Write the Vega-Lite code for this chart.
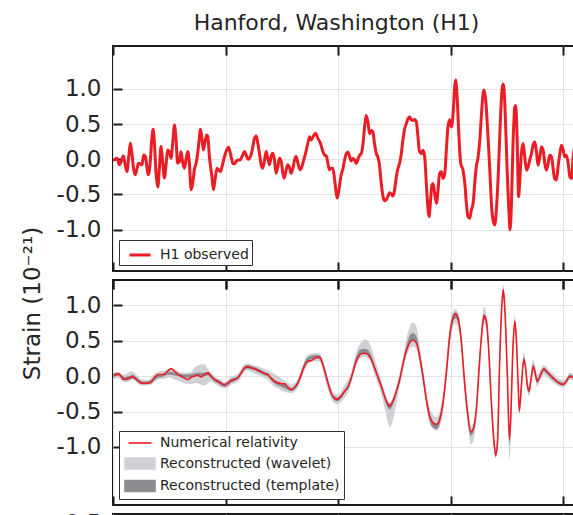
{
"$schema": "https://vega.github.io/schema/vega-lite/v6.json",
"padding": {"left": 20, "top": 11, "right": 0, "bottom": 0},
"bounds": "flush",
"spacing": 9,
"config": {
  "font": "DejaVu Sans",
  "view": {"stroke": "#1a1a1a", "strokeWidth": 2},
  "axis": {"labelFont": "DejaVu Sans", "labelFontSize": 23, "labelColor": "#262626", "gridColor": "#e4e4e4", "gridWidth": 1, "domain": false, "tickColor": "#1a1a1a", "tickWidth": 2, "tickSize": -9, "labelPadding": 21, "labelFlush": false, "labelOverlap": false, "titleFont": "DejaVu Sans", "titleFontWeight": "normal", "titleColor": "#262626"},
  "axisX": {"labelPadding": 0, "minExtent": 0, "maxExtent": 0},
  "legend": {"labelFont": "DejaVu Sans", "labelColor": "#262626", "labelLimit": 400}
},
"datasets": {
"h1": [
{"t":0.2506,"v":-0.010},{"t":0.2518,"v":0.014},{"t":0.2528,"v":-0.080},{"t":0.2536,"v":-0.033},{"t":0.2546,"v":0.047},{"t":0.2553,"v":-0.057},{"t":0.2562,"v":-0.175},{"t":0.2570,"v":0.038},{"t":0.2577,"v":0.226},{"t":0.2584,"v":0.085},{"t":0.2592,"v":-0.151},{"t":0.2599,"v":-0.222},{"t":0.2607,"v":-0.127},{"t":0.2614,"v":-0.057},{"t":0.2621,"v":-0.066},{"t":0.2629,"v":-0.080},{"t":0.2636,"v":0.061},{"t":0.2644,"v":0.038},{"t":0.2651,"v":-0.127},{"t":0.2657,"v":-0.222},{"t":0.2666,"v":-0.010},{"t":0.2672,"v":0.274},{"t":0.2678,"v":0.425},{"t":0.2684,"v":0.226},{"t":0.2691,"v":-0.198},{"t":0.2699,"v":-0.396},{"t":0.2706,"v":-0.127},{"t":0.2713,"v":0.179},{"t":0.2721,"v":-0.057},{"t":0.2728,"v":-0.269},{"t":0.2736,"v":-0.057},{"t":0.2743,"v":0.132},{"t":0.2750,"v":0.108},{"t":0.2758,"v":0.014},{"t":0.2765,"v":0.226},{"t":0.2773,"v":0.486},{"t":0.2780,"v":0.274},{"t":0.2787,"v":-0.057},{"t":0.2795,"v":-0.033},{"t":0.2802,"v":0.108},{"t":0.2810,"v":-0.057},{"t":0.2817,"v":-0.127},{"t":0.2824,"v":-0.010},{"t":0.2832,"v":0.108},{"t":0.2839,"v":-0.057},{"t":0.2847,"v":-0.434},{"t":0.2854,"v":-0.340},{"t":0.2861,"v":-0.151},{"t":0.2869,"v":-0.057},{"t":0.2876,"v":0.085},{"t":0.2884,"v":0.321},{"t":0.2888,"v":0.425},{"t":0.2894,"v":0.321},{"t":0.2901,"v":0.132},{"t":0.2909,"v":0.250},{"t":0.2916,"v":0.344},{"t":0.2921,"v":0.321},{"t":0.2928,"v":0.038},{"t":0.2939,"v":-0.245},{"t":0.2946,"v":-0.434},{"t":0.2953,"v":-0.292},{"t":0.2962,"v":-0.127},{"t":0.2968,"v":-0.151},{"t":0.2977,"v":-0.175},{"t":0.2984,"v":-0.104},{"t":0.2995,"v":0.038},{"t":0.3005,"v":0.132},{"t":0.3013,"v":0.170},{"t":0.3021,"v":0.085},{"t":0.3032,"v":-0.057},{"t":0.3039,"v":-0.066},{"t":0.3047,"v":-0.033},{"t":0.3054,"v":-0.010},{"t":0.3064,"v":-0.010},{"t":0.3073,"v":0.038},{"t":0.3084,"v":0.108},{"t":0.3091,"v":0.061},{"t":0.3099,"v":0.000},{"t":0.3106,"v":0.014},{"t":0.3113,"v":0.061},{"t":0.3121,"v":0.179},{"t":0.3128,"v":0.297},{"t":0.3136,"v":0.330},{"t":0.3143,"v":0.226},{"t":0.3150,"v":0.085},{"t":0.3158,"v":-0.080},{"t":0.3165,"v":-0.127},{"t":0.3173,"v":-0.010},{"t":0.3180,"v":0.108},{"t":0.3187,"v":0.014},{"t":0.3195,"v":-0.080},{"t":0.3202,"v":0.038},{"t":0.3210,"v":0.085},{"t":0.3217,"v":-0.010},{"t":0.3224,"v":-0.198},{"t":0.3232,"v":-0.104},{"t":0.3239,"v":0.014},{"t":0.3247,"v":-0.033},{"t":0.3254,"v":-0.198},{"t":0.3260,"v":-0.269},{"t":0.3269,"v":-0.151},{"t":0.3276,"v":-0.080},{"t":0.3284,"v":-0.127},{"t":0.3291,"v":-0.198},{"t":0.3299,"v":-0.127},{"t":0.3306,"v":-0.010},{"t":0.3313,"v":0.038},{"t":0.3321,"v":-0.057},{"t":0.3331,"v":-0.151},{"t":0.3339,"v":-0.104},{"t":0.3347,"v":-0.010},{"t":0.3355,"v":0.085},{"t":0.3365,"v":0.226},{"t":0.3373,"v":0.321},{"t":0.3380,"v":0.274},{"t":0.3390,"v":0.330},{"t":0.3399,"v":0.368},{"t":0.3410,"v":0.297},{"t":0.3421,"v":0.226},{"t":0.3432,"v":0.108},{"t":0.3439,"v":0.061},{"t":0.3447,"v":0.047},{"t":0.3454,"v":-0.057},{"t":0.3461,"v":-0.151},{"t":0.3469,"v":-0.127},{"t":0.3476,"v":-0.127},{"t":0.3484,"v":-0.292},{"t":0.3491,"v":-0.481},{"t":0.3496,"v":-0.552},{"t":0.3503,"v":-0.434},{"t":0.3513,"v":-0.226},
{"t":0.3521,"v":-0.132},{"t":0.3528,"v":-0.014},{"t":0.3536,"v":0.080},{"t":0.3543,"v":0.104},{"t":0.3550,"v":0.042},{"t":0.3558,"v":-0.024},{"t":0.3565,"v":0.009},{"t":0.3573,"v":-0.014},{"t":0.3580,"v":-0.061},{"t":0.3587,"v":-0.005},{"t":0.3595,"v":0.057},{"t":0.3602,"v":0.080},{"t":0.3610,"v":0.222},{"t":0.3617,"v":0.458},{"t":0.3624,"v":0.623},{"t":0.3632,"v":0.528},{"t":0.3639,"v":0.363},{"t":0.3647,"v":0.410},{"t":0.3654,"v":0.387},{"t":0.3661,"v":0.222},{"t":0.3669,"v":0.080},{"t":0.3676,"v":0.033},{"t":0.3684,"v":-0.108},{"t":0.3691,"v":-0.344},{"t":0.3699,"v":-0.533},{"t":0.3706,"v":-0.590},{"t":0.3713,"v":-0.580},{"t":0.3721,"v":-0.524},{"t":0.3728,"v":-0.476},{"t":0.3736,"v":-0.495},{"t":0.3743,"v":-0.524},{"t":0.3750,"v":-0.439},{"t":0.3758,"v":-0.250},{"t":0.3765,"v":-0.132},{"t":0.3773,"v":-0.052},{"t":0.3780,"v":0.080},{"t":0.3787,"v":0.269},{"t":0.3795,"v":0.434},{"t":0.3802,"v":0.505},{"t":0.3810,"v":0.575},{"t":0.3817,"v":0.599},{"t":0.3824,"v":0.561},{"t":0.3832,"v":0.552},{"t":0.3839,"v":0.566},{"t":0.3847,"v":0.528},{"t":0.3854,"v":0.316},{"t":0.3861,"v":0.104},{"t":0.3869,"v":0.080},{"t":0.3876,"v":0.127},{"t":0.3884,"v":0.033},{"t":0.3891,"v":-0.344},{"t":0.3899,"v":-0.722},{"t":0.3903,"v":-0.816},{"t":0.3909,"v":-0.627},{"t":0.3916,"v":-0.368},{"t":0.3921,"v":-0.344},{"t":0.3928,"v":-0.486},{"t":0.3936,"v":-0.627},{"t":0.3943,"v":-0.439},{"t":0.3950,"v":-0.203},{"t":0.3958,"v":-0.179},{"t":0.3965,"v":-0.274},{"t":0.3973,"v":-0.203},{"t":0.3980,"v":0.127},{"t":0.3987,"v":0.458},{"t":0.3995,"v":0.561},{"t":0.4002,"v":0.458},{"t":0.4010,"v":0.646},{"t":0.4017,"v":1.024},{"t":0.4021,"v":1.127},{"t":0.4027,"v":0.929},{"t":0.4036,"v":0.316},{"t":0.4044,"v":-0.061},{"t":0.4054,"v":-0.156},{"t":0.4062,"v":-0.344},{"t":0.4069,"v":-0.627},{"t":0.4076,"v":-0.816},{"t":0.4084,"v":-0.840},{"t":0.4091,"v":-0.722},{"t":0.4099,"v":-0.627},{"t":0.4106,"v":-0.344},{"t":0.4113,"v":-0.108},{"t":0.4121,"v":0.033},{"t":0.4128,"v":0.245},{"t":0.4136,"v":0.646},{"t":0.4143,"v":0.929},{"t":0.4147,"v":0.986},{"t":0.4155,"v":0.835},{"t":0.4165,"v":0.316},{"t":0.4173,"v":-0.156},{"t":0.4180,"v":-0.627},{"t":0.4187,"v":-0.863},{"t":0.4195,"v":-0.934},{"t":0.4202,"v":-0.722},{"t":0.4210,"v":-0.250},{"t":0.4217,"v":0.316},{"t":0.4224,"v":0.835},{"t":0.4232,"v":1.071},{"t":0.4236,"v":1.000},{"t":0.4244,"v":0.410},{"t":0.4251,"v":-0.250},{"t":0.4259,"v":-0.816},{"t":0.4263,"v":-1.005},{"t":0.4269,"v":-0.627},{"t":0.4276,"v":0.222},{"t":0.4284,"v":0.741},{"t":0.4288,"v":0.764},{"t":0.4294,"v":0.316},{"t":0.4301,"v":-0.533},{"t":0.4306,"v":-0.297},{"t":0.4313,"v":0.080},{"t":0.4321,"v":0.222},{"t":0.4328,"v":0.033},{"t":0.4336,"v":-0.156},{"t":0.4343,"v":-0.108},{"t":0.4350,"v":-0.014},{"t":0.4358,"v":0.080},{"t":0.4365,"v":0.198},{"t":0.4373,"v":0.245},{"t":0.4380,"v":0.104},{"t":0.4387,"v":-0.085},{"t":0.4395,"v":0.033},{"t":0.4402,"v":0.175},{"t":0.4410,"v":0.127},{"t":0.4417,"v":-0.061},{"t":0.4424,"v":-0.156},{"t":0.4432,"v":-0.061},{"t":0.4439,"v":0.057},{"t":0.4447,"v":0.033},{"t":0.4454,"v":-0.132},{"t":0.4461,"v":-0.274},{"t":0.4469,"v":-0.297},{"t":0.4476,"v":-0.108},{"t":0.4484,"v":0.080},{"t":0.4491,"v":0.198},{"t":0.4499,"v":0.127},{"t":0.4506,"v":0.033},{"t":0.4513,"v":0.057},{"t":0.4521,"v":-0.061},{"t":0.4528,"v":-0.250},{"t":0.4536,"v":-0.274},{"t":0.4543,"v":0.033},{"t":0.4549,"v":0.175}
],
"nr": [
{"t":0.2503,"nr":0.014,"tlo":-0.01,"thi":0.04,"wlo":-0.04,"whi":0.05},
{"t":0.2513,"nr":0.024,"tlo":0.0,"thi":0.05,"wlo":-0.03,"whi":0.06},
{"t":0.2524,"nr":0.033,"tlo":0.005,"thi":0.05,"wlo":-0.03,"whi":0.06},
{"t":0.2536,"nr":0.0,"tlo":-0.03,"thi":0.02,"wlo":-0.06,"whi":0.04},
{"t":0.2550,"nr":-0.047,"tlo":-0.06,"thi":-0.01,"wlo":-0.08,"whi":0.02},
{"t":0.2565,"nr":-0.033,"tlo":-0.055,"thi":0.0,"wlo":-0.08,"whi":0.05},
{"t":0.2580,"nr":-0.014,"tlo":-0.04,"thi":0.01,"wlo":-0.06,"whi":0.07},
{"t":0.2587,"nr":0.0,"tlo":-0.03,"thi":0.02,"wlo":-0.05,"whi":0.07},
{"t":0.2595,"nr":-0.024,"tlo":-0.04,"thi":0.005,"wlo":-0.06,"whi":0.05},
{"t":0.2610,"nr":-0.061,"tlo":-0.08,"thi":-0.03,"wlo":-0.1,"whi":0.0},
{"t":0.2624,"nr":-0.094,"tlo":-0.11,"thi":-0.07,"wlo":-0.13,"whi":-0.04},
{"t":0.2639,"nr":-0.099,"tlo":-0.115,"thi":-0.075,"wlo":-0.13,"whi":-0.05},
{"t":0.2654,"nr":-0.099,"tlo":-0.11,"thi":-0.07,"wlo":-0.13,"whi":-0.05},
{"t":0.2669,"nr":-0.085,"tlo":-0.1,"thi":-0.055,"wlo":-0.12,"whi":-0.02},
{"t":0.2684,"nr":-0.024,"tlo":-0.05,"thi":0.0,"wlo":-0.08,"whi":0.04},
{"t":0.2699,"nr":0.024,"tlo":-0.02,"thi":0.02,"wlo":-0.05,"whi":0.06},
{"t":0.2713,"nr":0.024,"tlo":-0.01,"thi":0.03,"wlo":-0.04,"whi":0.07},
{"t":0.2728,"nr":0.033,"tlo":0.0,"thi":0.04,"wlo":-0.04,"whi":0.08},
{"t":0.2743,"nr":0.071,"tlo":0.02,"thi":0.06,"wlo":-0.02,"whi":0.1},
{"t":0.2758,"nr":0.108,"tlo":0.02,"thi":0.065,"wlo":-0.02,"whi":0.11},
{"t":0.2773,"nr":0.071,"tlo":0.01,"thi":0.05,"wlo":-0.05,"whi":0.09},
{"t":0.2787,"nr":0.033,"tlo":0.0,"thi":0.04,"wlo":-0.06,"whi":0.07},
{"t":0.2802,"nr":0.0,"tlo":-0.01,"thi":0.03,"wlo":-0.08,"whi":0.06},
{"t":0.2817,"nr":-0.024,"tlo":-0.02,"thi":0.025,"wlo":-0.1,"whi":0.05},
{"t":0.2832,"nr":-0.047,"tlo":-0.02,"thi":0.025,"wlo":-0.11,"whi":0.05},
{"t":0.2847,"nr":-0.014,"tlo":-0.01,"thi":0.03,"wlo":-0.11,"whi":0.06},
{"t":0.2861,"nr":0.0,"tlo":0.0,"thi":0.04,"wlo":-0.1,"whi":0.12},
{"t":0.2876,"nr":0.014,"tlo":0.0,"thi":0.05,"wlo":-0.1,"whi":0.15},
{"t":0.2891,"nr":-0.009,"tlo":0.0,"thi":0.05,"wlo":-0.12,"whi":0.17},
{"t":0.2906,"nr":0.024,"tlo":0.0,"thi":0.05,"wlo":-0.13,"whi":0.17},
{"t":0.2921,"nr":0.047,"tlo":0.01,"thi":0.055,"wlo":-0.1,"whi":0.1},
{"t":0.2936,"nr":0.0,"tlo":-0.03,"thi":0.02,"wlo":-0.07,"whi":0.05},
{"t":0.2950,"nr":-0.047,"tlo":-0.07,"thi":-0.02,"wlo":-0.1,"whi":0.0},
{"t":0.2965,"nr":-0.071,"tlo":-0.1,"thi":-0.05,"wlo":-0.13,"whi":-0.03},
{"t":0.2980,"nr":-0.099,"tlo":-0.13,"thi":-0.08,"wlo":-0.16,"whi":-0.05},
{"t":0.2995,"nr":-0.123,"tlo":-0.15,"thi":-0.1,"wlo":-0.17,"whi":-0.08},
{"t":0.3010,"nr":-0.094,"tlo":-0.13,"thi":-0.08,"wlo":-0.16,"whi":-0.05},
{"t":0.3024,"nr":-0.061,"tlo":-0.09,"thi":-0.04,"wlo":-0.12,"whi":-0.01},
{"t":0.3039,"nr":-0.047,"tlo":-0.07,"thi":-0.02,"wlo":-0.1,"whi":0.01},
{"t":0.3054,"nr":-0.024,"tlo":-0.04,"thi":0.0,"wlo":-0.08,"whi":0.03},
{"t":0.3069,"nr":0.047,"tlo":0.02,"thi":0.07,"wlo":-0.02,"whi":0.1},
{"t":0.3084,"nr":0.118,"tlo":0.09,"thi":0.14,"wlo":0.06,"whi":0.17},
{"t":0.3099,"nr":0.132,"tlo":0.11,"thi":0.16,"wlo":0.08,"whi":0.18},
{"t":0.3113,"nr":0.118,"tlo":0.1,"thi":0.145,"wlo":0.06,"whi":0.17},
{"t":0.3128,"nr":0.104,"tlo":0.085,"thi":0.13,"wlo":0.04,"whi":0.15},
{"t":0.3143,"nr":0.085,"tlo":0.065,"thi":0.11,"wlo":0.02,"whi":0.14},
{"t":0.3158,"nr":0.061,"tlo":0.04,"thi":0.085,"wlo":0.0,"whi":0.12},
{"t":0.3173,"nr":0.038,"tlo":0.015,"thi":0.06,"wlo":-0.03,"whi":0.1},
{"t":0.3187,"nr":0.024,"tlo":0.0,"thi":0.04,"wlo":-0.05,"whi":0.08},
{"t":0.3202,"nr":-0.024,"tlo":-0.06,"thi":-0.01,"wlo":-0.1,"whi":0.06},
{"t":0.3217,"nr":-0.071,"tlo":-0.1,"thi":-0.05,"wlo":-0.15,"whi":0.03},
{"t":0.3232,"nr":-0.094,"tlo":-0.13,"thi":-0.08,"wlo":-0.17,"whi":0.0},
{"t":0.3247,"nr":-0.104,"tlo":-0.15,"thi":-0.1,"wlo":-0.2,"whi":-0.03},
{"t":0.3261,"nr":-0.108,"tlo":-0.17,"thi":-0.12,"wlo":-0.22,"whi":-0.06},
{"t":0.3276,"nr":-0.151,"tlo":-0.19,"thi":-0.14,"wlo":-0.23,"whi":-0.09},
{"t":0.3291,"nr":-0.189,"tlo":-0.21,"thi":-0.17,"wlo":-0.24,"whi":-0.12},
{"t":0.3306,"nr":-0.156,"tlo":-0.19,"thi":-0.14,"wlo":-0.22,"whi":-0.1},
{"t":0.3321,"nr":-0.094,"tlo":-0.12,"thi":-0.06,"wlo":-0.16,"whi":-0.03},
{"t":0.3336,"nr":0.024,"tlo":0.0,"thi":0.07,"wlo":-0.05,"whi":0.1},
{"t":0.3350,"nr":0.142,"tlo":0.13,"thi":0.19,"wlo":0.08,"whi":0.22},
{"t":0.3365,"nr":0.212,"tlo":0.21,"thi":0.27,"wlo":0.16,"whi":0.3},
{"t":0.3380,"nr":0.222,"tlo":0.24,"thi":0.29,"wlo":0.2,"whi":0.32},
{"t":0.3395,"nr":0.25,"tlo":0.25,"thi":0.3,"wlo":0.21,"whi":0.33},
{"t":0.3410,"nr":0.274,"tlo":0.25,"thi":0.3,"wlo":0.21,"whi":0.33},
{"t":0.3421,"nr":0.259,"tlo":0.22,"thi":0.28,"wlo":0.19,"whi":0.31},
{"t":0.3432,"nr":0.165,"tlo":0.12,"thi":0.18,"wlo":0.07,"whi":0.21},
{"t":0.3447,"nr":0.0,"tlo":-0.05,"thi":0.02,"wlo":-0.12,"whi":0.06},
{"t":0.3461,"nr":-0.165,"tlo":-0.2,"thi":-0.15,"wlo":-0.25,"whi":-0.1},
{"t":0.3476,"nr":-0.283,"tlo":-0.31,"thi":-0.27,"wlo":-0.36,"whi":-0.22},
{"t":0.3496,"nr":-0.33,"tlo":-0.35,"thi":-0.3,"wlo":-0.4,"whi":-0.26},
{"t":0.3513,"nr":-0.283,"tlo":-0.31,"thi":-0.26,"wlo":-0.36,"whi":-0.22},
{"t":0.3528,"nr":-0.212,"tlo":-0.24,"thi":-0.19,"wlo":-0.3,"whi":-0.12},
{"t":0.3543,"nr":-0.156,"tlo":-0.17,"thi":-0.12,"wlo":-0.24,"whi":-0.05},
{"t":0.3558,"nr":-0.024,"tlo":-0.04,"thi":0.01,"wlo":-0.1,"whi":0.06},
{"t":0.3573,"nr":0.142,"tlo":0.14,"thi":0.2,"wlo":0.08,"whi":0.26},
{"t":0.3587,"nr":0.259,"tlo":0.26,"thi":0.33,"wlo":0.2,"whi":0.4},
{"t":0.3602,"nr":0.316,"tlo":0.32,"thi":0.38,"wlo":0.26,"whi":0.48},
{"t":0.3617,"nr":0.325,"tlo":0.33,"thi":0.39,"wlo":0.27,"whi":0.52},
{"t":0.3632,"nr":0.307,"tlo":0.3,"thi":0.37,"wlo":0.25,"whi":0.5},
{"t":0.3647,"nr":0.236,"tlo":0.22,"thi":0.29,"wlo":0.17,"whi":0.4},
{"t":0.3661,"nr":0.118,"tlo":0.09,"thi":0.16,"wlo":0.02,"whi":0.25},
{"t":0.3691,"nr":-0.141,"tlo":-0.18,"thi":-0.11,"wlo":-0.25,"whi":-0.05},
{"t":0.3706,"nr":-0.282,"tlo":-0.33,"thi":-0.26,"wlo":-0.45,"whi":-0.22},
{"t":0.3721,"nr":-0.4,"tlo":-0.45,"thi":-0.37,"wlo":-0.66,"whi":-0.35},
{"t":0.3728,"nr":-0.424,"tlo":-0.47,"thi":-0.39,"wlo":-0.72,"whi":-0.37},
{"t":0.3743,"nr":-0.353,"tlo":-0.4,"thi":-0.32,"wlo":-0.62,"whi":-0.3},
{"t":0.3758,"nr":-0.212,"tlo":-0.25,"thi":-0.18,"wlo":-0.4,"whi":-0.14},
{"t":0.3773,"nr":-0.047,"tlo":-0.08,"thi":-0.01,"wlo":-0.15,"whi":0.05},
{"t":0.3787,"nr":0.165,"tlo":0.14,"thi":0.2,"wlo":0.08,"whi":0.27},
{"t":0.3802,"nr":0.353,"tlo":0.34,"thi":0.42,"wlo":0.27,"whi":0.52},
{"t":0.3817,"nr":0.471,"tlo":0.47,"thi":0.57,"wlo":0.38,"whi":0.7},
{"t":0.3832,"nr":0.508,"tlo":0.5,"thi":0.61,"wlo":0.42,"whi":0.76},
{"t":0.3847,"nr":0.471,"tlo":0.46,"thi":0.56,"wlo":0.38,"whi":0.7},
{"t":0.3861,"nr":0.282,"tlo":0.26,"thi":0.34,"wlo":0.2,"whi":0.45},
{"t":0.3876,"nr":0.0,"tlo":-0.03,"thi":0.05,"wlo":-0.1,"whi":0.12},
{"t":0.3891,"nr":-0.329,"tlo":-0.37,"thi":-0.3,"wlo":-0.43,"whi":-0.2},
{"t":0.3906,"nr":-0.565,"tlo":-0.62,"thi":-0.54,"wlo":-0.68,"whi":-0.45},
{"t":0.3921,"nr":-0.659,"tlo":-0.73,"thi":-0.64,"wlo":-0.74,"whi":-0.54},
{"t":0.3936,"nr":-0.682,"tlo":-0.75,"thi":-0.67,"wlo":-0.77,"whi":-0.58},
{"t":0.3950,"nr":-0.612,"tlo":-0.68,"thi":-0.59,"wlo":-0.72,"whi":-0.5},
{"t":0.3965,"nr":-0.376,"tlo":-0.42,"thi":-0.35,"wlo":-0.52,"whi":-0.27},
{"t":0.3980,"nr":0.047,"tlo":0.0,"thi":0.09,"wlo":-0.08,"whi":0.2},
{"t":0.3995,"nr":0.565,"tlo":0.52,"thi":0.62,"wlo":0.44,"whi":0.72},
{"t":0.4010,"nr":0.824,"tlo":0.78,"thi":0.87,"wlo":0.7,"whi":0.92},
{"t":0.4020,"nr":0.885,"tlo":0.82,"thi":0.9,"wlo":0.75,"whi":0.95},
{"t":0.4032,"nr":0.824,"tlo":0.76,"thi":0.84,"wlo":0.68,"whi":0.9},
{"t":0.4047,"nr":0.471,"tlo":0.43,"thi":0.51,"wlo":0.35,"whi":0.6},
{"t":0.4061,"nr":-0.094,"tlo":-0.13,"thi":-0.05,"wlo":-0.22,"whi":0.05},
{"t":0.4076,"nr":-0.565,"tlo":-0.62,"thi":-0.54,"wlo":-0.7,"whi":-0.45},
{"t":0.4088,"nr":-0.791,"tlo":-0.84,"thi":-0.76,"wlo":-0.96,"whi":-0.7},
{"t":0.4099,"nr":-0.753,"tlo":-0.8,"thi":-0.72,"wlo":-0.93,"whi":-0.66},
{"t":0.4113,"nr":-0.471,"tlo":-0.51,"thi":-0.44,"wlo":-0.62,"whi":-0.36},
{"t":0.4128,"nr":0.235,"tlo":0.2,"thi":0.28,"wlo":0.1,"whi":0.38},
{"t":0.4140,"nr":0.706,"tlo":0.68,"thi":0.76,"wlo":0.6,"whi":0.85},
{"t":0.4147,"nr":0.856,"tlo":0.8,"thi":0.88,"wlo":0.74,"whi":0.98},
{"t":0.4158,"nr":0.776,"tlo":0.72,"thi":0.8,"wlo":0.66,"whi":0.88},
{"t":0.4168,"nr":0.376,"tlo":0.33,"thi":0.41,"wlo":0.25,"whi":0.5},
{"t":0.4180,"nr":-0.376,"tlo":-0.42,"thi":-0.34,"wlo":-0.5,"whi":-0.25},
{"t":0.4192,"nr":-0.941,"tlo":-1.0,"thi":-0.92,"wlo":-1.06,"whi":-0.86},
{"t":0.4199,"nr":-1.12,"tlo":-1.15,"thi":-1.06,"wlo":-1.15,"whi":-1.0},
{"t":0.4207,"nr":-0.941,"tlo":-0.99,"thi":-0.9,"wlo":-1.04,"whi":-0.82},
{"t":0.4217,"nr":0.235,"tlo":0.2,"thi":0.28,"wlo":0.1,"whi":0.35},
{"t":0.4227,"nr":1.035,"tlo":1.0,"thi":1.08,"wlo":0.95,"whi":1.15},
{"t":0.4233,"nr":1.224,"tlo":1.15,"thi":1.23,"wlo":1.12,"whi":1.29},
{"t":0.4239,"nr":0.988,"tlo":0.95,"thi":1.02,"wlo":0.9,"whi":1.1},
{"t":0.4251,"nr":0.0,"tlo":-0.05,"thi":0.04,"wlo":-0.15,"whi":0.12},
{"t":0.4260,"nr":-0.894,"tlo":-0.94,"thi":-0.87,"wlo":-1.17,"whi":-0.8},
{"t":0.4266,"nr":-0.565,"tlo":-0.62,"thi":-0.52,"wlo":-0.9,"whi":-0.45},
{"t":0.4276,"nr":0.424,"tlo":0.4,"thi":0.48,"wlo":0.3,"whi":0.56},
{"t":0.4284,"nr":0.776,"tlo":0.72,"thi":0.8,"wlo":0.66,"whi":0.86},
{"t":0.4290,"nr":0.565,"tlo":0.52,"thi":0.6,"wlo":0.46,"whi":0.68},
{"t":0.4299,"nr":-0.141,"tlo":-0.18,"thi":-0.1,"wlo":-0.26,"whi":-0.05},
{"t":0.4304,"nr":-0.494,"tlo":-0.52,"thi":-0.44,"wlo":-0.55,"whi":-0.38},
{"t":0.4313,"nr":-0.141,"tlo":-0.17,"thi":-0.09,"wlo":-0.25,"whi":-0.03},
{"t":0.4324,"nr":0.235,"tlo":0.2,"thi":0.28,"wlo":0.15,"whi":0.34},
{"t":0.4331,"nr":0.141,"tlo":0.1,"thi":0.17,"wlo":0.05,"whi":0.24},
{"t":0.4340,"nr":-0.141,"tlo":-0.17,"thi":-0.11,"wlo":-0.22,"whi":-0.04},
{"t":0.4347,"nr":-0.212,"tlo":-0.24,"thi":-0.17,"wlo":-0.28,"whi":-0.12},
{"t":0.4358,"nr":0.0,"tlo":-0.03,"thi":0.04,"wlo":-0.08,"whi":0.1},
{"t":0.4365,"nr":0.141,"tlo":0.11,"thi":0.17,"wlo":0.05,"whi":0.24},
{"t":0.4373,"nr":0.071,"tlo":0.04,"thi":0.1,"wlo":-0.02,"whi":0.16},
{"t":0.4383,"nr":-0.071,"tlo":-0.1,"thi":-0.04,"wlo":-0.15,"whi":0.02},
{"t":0.4392,"nr":-0.024,"tlo":-0.05,"thi":0.0,"wlo":-0.1,"whi":0.06},
{"t":0.4402,"nr":0.047,"tlo":0.02,"thi":0.07,"wlo":-0.04,"whi":0.12},
{"t":0.4413,"nr":0.104,"tlo":0.07,"thi":0.12,"wlo":0.02,"whi":0.16},
{"t":0.4424,"nr":0.071,"tlo":0.04,"thi":0.09,"wlo":0.0,"whi":0.13},
{"t":0.4439,"nr":0.024,"tlo":-0.01,"thi":0.04,"wlo":-0.05,"whi":0.08},
{"t":0.4454,"nr":-0.024,"tlo":-0.05,"thi":-0.01,"wlo":-0.09,"whi":0.04},
{"t":0.4469,"nr":-0.071,"tlo":-0.09,"thi":-0.05,"wlo":-0.12,"whi":-0.01},
{"t":0.4484,"nr":-0.104,"tlo":-0.12,"thi":-0.08,"wlo":-0.15,"whi":-0.04},
{"t":0.4499,"nr":-0.118,"tlo":-0.13,"thi":-0.09,"wlo":-0.16,"whi":-0.06},
{"t":0.4513,"nr":-0.071,"tlo":-0.09,"thi":-0.05,"wlo":-0.12,"whi":-0.02},
{"t":0.4528,"nr":0.0,"tlo":-0.02,"thi":0.02,"wlo":-0.05,"whi":0.05},
{"t":0.4543,"nr":-0.014,"tlo":-0.03,"thi":0.01,"wlo":-0.06,"whi":0.04},
{"t":0.4549,"nr":-0.024,"tlo":-0.04,"thi":0.0,"wlo":-0.07,"whi":0.03}
]
},
"vconcat": [
{
  "width": 473, "height": 225,
  "title": {"text": "Hanford, Washington (H1)", "font": "DejaVu Sans", "fontSize": 22, "fontWeight": "normal", "color": "#262626", "dx": -13, "offset": -7, "baseline": "alphabetic", "frame": "group"},
  "layer": [
    {"data": {"name": "h1"},
     "mark": {"type": "line", "strokeWidth": 3, "interpolate": "monotone", "clip": true, "strokeJoin": "round", "strokeCap": "round"},
     "encoding": {
       "x": {"field": "t", "type": "quantitative", "scale": {"domain": [0.25, 0.46], "nice": false, "zero": false}, "axis": {"orient": "bottom", "values": [0.25, 0.3, 0.35, 0.4, 0.45], "labels": false, "grid": true, "title": null}},
       "y": {"field": "v", "type": "quantitative", "scale": {"domain": [-1.59, 1.61], "nice": false, "zero": false}, "axis": {"values": [-1, -0.5, 0, 0.5, 1], "labelExpr": "replace(format(datum.value, '.1f'), '\u2212', '-')", "grid": true, "title": "Strain (10\u207b\u00b2\u00b9)", "titleFontSize": 23, "titleAngle": 270, "titleAlign": "center", "titleBaseline": "alphabetic", "titleX": -74, "titleY": 257}},
       "color": {"datum": "H1 observed", "type": "nominal", "scale": {"domain": ["H1 observed"], "range": ["#ec1c24"]},
         "legend": {"orient": "bottom-left", "offset": 6, "title": null, "symbolType": "stroke", "symbolSize": 440, "symbolStrokeWidth": 3, "labelFontSize": 14, "labelOffset": 8, "padding": 3, "symbolOffset": 6, "strokeColor": "#333333", "fillColor": "#ffffff"}}
     }},
    {"data": {"name": "h1"},
     "mark": {"type": "line", "opacity": 0},
     "encoding": {
       "x": {"field": "t", "type": "quantitative", "axis": {"orient": "top", "values": [0.25, 0.3, 0.35, 0.4, 0.45], "labels": false, "grid": false, "title": null}},
       "y": {"field": "v", "type": "quantitative", "axis": {"values": [-1, -0.5, 0, 0.5, 1], "labelExpr": "replace(format(datum.value, '.1f'), '\u2212', '-')", "grid": true, "title": "Strain (10\u207b\u00b2\u00b9)", "titleFontSize": 23, "titleAngle": 270, "titleAlign": "center", "titleBaseline": "alphabetic", "titleX": -74, "titleY": 257}}
     }}
  ],
  "resolve": {"axis": {"x": "independent"}}
},
{
  "width": 473, "height": 225,
  "layer": [
    {"data": {"name": "nr"},
     "mark": {"type": "area", "interpolate": "monotone", "clip": true},
     "encoding": {
       "x": {"field": "t", "type": "quantitative", "scale": {"domain": [0.25, 0.46], "nice": false, "zero": false}, "axis": {"orient": "top", "values": [0.25, 0.3, 0.35, 0.4, 0.45], "labels": false, "grid": false, "title": null}},
       "y": {"field": "wlo", "type": "quantitative", "scale": {"domain": [-1.82, 1.36], "nice": false, "zero": false}, "axis": {"values": [-1, -0.5, 0, 0.5, 1], "labelExpr": "replace(format(datum.value, '.1f'), '\u2212', '-')", "grid": true, "title": null}},
       "y2": {"field": "whi"},
       "color": {"datum": "Reconstructed (wavelet)", "type": "nominal"}
     }},
    {"data": {"name": "nr"},
     "mark": {"type": "area", "interpolate": "monotone", "clip": true},
     "encoding": {
       "x": {"field": "t", "type": "quantitative", "axis": {"orient": "top", "values": [0.25, 0.3, 0.35, 0.4, 0.45], "labels": false, "grid": false, "title": null}},
       "y": {"field": "tlo", "type": "quantitative", "axis": {"values": [-1, -0.5, 0, 0.5, 1], "labelExpr": "replace(format(datum.value, '.1f'), '\u2212', '-')", "grid": true, "title": null}},
       "y2": {"field": "thi"},
       "color": {"datum": "Reconstructed (template)", "type": "nominal"}
     }},
    {"data": {"name": "nr"},
     "mark": {"type": "line", "strokeWidth": 1.6, "interpolate": "monotone", "clip": true},
     "encoding": {
       "x": {"field": "t", "type": "quantitative", "axis": {"orient": "bottom", "values": [0.25, 0.3, 0.35, 0.4, 0.45], "labels": false, "grid": true, "title": null}},
       "y": {"field": "nr", "type": "quantitative", "axis": {"values": [-1, -0.5, 0, 0.5, 1], "labelExpr": "replace(format(datum.value, '.1f'), '\u2212', '-')", "grid": true, "title": null}},
       "color": {"datum": "Numerical relativity", "type": "nominal",
         "scale": {"domain": ["Numerical relativity", "Reconstructed (wavelet)", "Reconstructed (template)"], "range": ["#ec1c24", "#d0d1d4", "#8b8c8f"]},
         "legend": {"orient": "bottom-left", "offset": 6, "title": null, "symbolSize": 196, "labelFontSize": 14, "labelOffset": 12, "rowPadding": 4.5, "padding": 4, "symbolOffset": 9, "strokeColor": "#333333", "fillColor": "#ffffff",
           "encode": {"symbols": {"update": {
             "shape": {"signal": "datum.value === 'Numerical relativity' ? 'M-1.64,0H1.64' : 'M-2.14,-0.79H2.14V0.79H-2.14Z'"},
             "fill": {"signal": "datum.value === 'Numerical relativity' ? 'transparent' : (datum.value === 'Reconstructed (wavelet)' ? '#d0d1d4' : '#8b8c8f')"},
             "stroke": {"signal": "datum.value === 'Numerical relativity' ? '#ec1c24' : 'transparent'"},
             "strokeWidth": {"value": 1.6},
             "opacity": {"value": 1}
           }}}}}
     }}
  ],
  "resolve": {"axis": {"x": "independent"}}
},
{
  "width": 473, "height": 225,
  "data": {"name": "nr"},
  "mark": {"type": "line", "opacity": 0},
  "encoding": {
    "x": {"field": "t", "type": "quantitative", "scale": {"domain": [0.25, 0.46], "nice": false, "zero": false}, "axis": {"values": [0.25, 0.3, 0.35, 0.4, 0.45], "labels": false, "grid": true, "title": null}},
    "y": {"field": "nr", "type": "quantitative", "scale": {"domain": [-0.8, 0.56], "nice": false, "zero": false}, "axis": {"values": [-0.5, 0, 0.5], "labelExpr": "replace(format(datum.value, '.1f'), '\u2212', '-')", "grid": true, "title": null}}
  }
}
],
"resolve": {"scale": {"color": "independent"}, "legend": {"color": "independent"}}
}
